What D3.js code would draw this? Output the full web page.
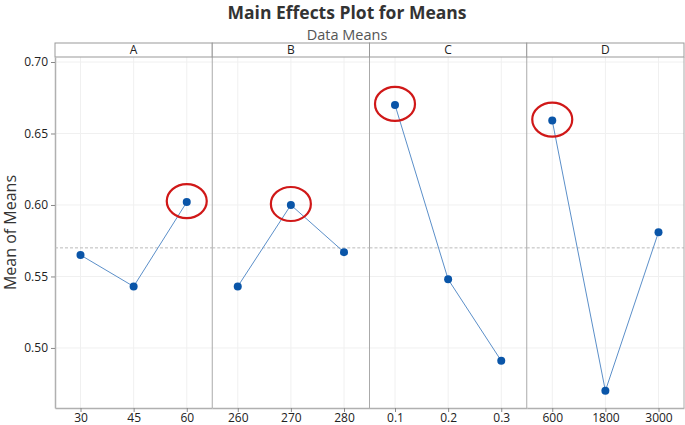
<!DOCTYPE html>
<html>
<head>
<meta charset="utf-8">
<script src="https://cdn.jsdelivr.net/npm/d3@7"></script>
<style>
  body { margin: 0; background: #fff; }
  svg { font-family: "Open Sans", "Noto Sans", sans-serif; }
</style>
</head>
<body>
<svg width="685" height="425"></svg>
<script>
const width = 685, height = 425;

// data
const factors = ["A", "B", "C", "D"];
const levels = [["30", "45", "60"], ["260", "270", "280"], ["0.1", "0.2", "0.3"], ["600", "1800", "3000"]];
const means = [[0.565, 0.543, 0.602], [0.543, 0.600, 0.567], [0.670, 0.548, 0.491], [0.659, 0.470, 0.581]];
const highlighted = ["60", "270", "0.1", "600"]; // circled in red
const overallMean = 0.570;
const yTicks = [0.50, 0.55, 0.60, 0.65, 0.70];

const margin = {left: 55, right: 1, top: 57, bottom: 17};
const stripH = 14;

const svg = d3.select("svg");

const y = d3.scaleLinear()
    .domain([0.458, 0.7035])
    .range([height - margin.bottom, margin.top]);

const panel = d3.scaleBand()
    .domain(factors)
    .range([margin.left, width - margin.right]);

// title
svg.append("text")
    .attr("x", 347).attr("y", 19)
    .attr("text-anchor", "middle")
    .attr("font-size", 17.5).attr("font-weight", "bold").attr("fill", "#333")
    .text("Main Effects Plot for Means");
svg.append("text")
    .attr("x", 347).attr("y", 40)
    .attr("text-anchor", "middle")
    .attr("font-size", 14.5).attr("fill", "#555")
    .text("Data Means");

// y axis label
svg.append("text")
    .attr("transform", `translate(16,${(margin.top + height - margin.bottom) / 2}) rotate(-90)`)
    .attr("text-anchor", "middle")
    .attr("font-size", 16).attr("fill", "#333")
    .text("Mean of Means");

// horizontal grid
svg.append("g").selectAll("line")
    .data(yTicks)
    .enter().append("line")
    .attr("x1", margin.left).attr("x2", width - margin.right)
    .attr("y1", d => y(d)).attr("y2", d => y(d))
    .attr("stroke", "#f0f0f0");

// y axis
const yAxis = svg.append("g")
    .attr("transform", `translate(${margin.left},0)`)
    .call(d3.axisLeft(y).tickValues(yTicks).tickFormat(d3.format(".2f")).tickSize(4).tickSizeOuter(0));
yAxis.select(".domain").attr("stroke", "#b0b0b0").attr("stroke-width", 1.5);
yAxis.selectAll(".tick line").attr("stroke", "#888");
yAxis.selectAll(".tick text").attr("font-size", 12).attr("fill", "#222").attr("font-family", "Open Sans, sans-serif");

factors.forEach((f, i) => {
    const x0 = panel(f), w = panel.bandwidth();
    const x = d3.scalePoint()
        .domain(levels[i])
        .range([x0, x0 + w])
        .padding(0.48);

    const g = svg.append("g");

    // vertical grid
    g.selectAll(".vgrid")
        .data(levels[i])
        .enter().append("line")
        .attr("x1", d => x(d)).attr("x2", d => x(d))
        .attr("y1", margin.top).attr("y2", height - margin.bottom)
        .attr("stroke", "#f0f0f0");

    // reference line at overall mean
    g.append("line")
        .attr("x1", x0).attr("x2", x0 + w)
        .attr("y1", y(overallMean)).attr("y2", y(overallMean))
        .attr("stroke", "#bbb").attr("stroke-dasharray", "3,2");

    // header strip
    g.append("rect")
        .attr("x", x0).attr("y", margin.top - stripH)
        .attr("width", w).attr("height", stripH)
        .attr("fill", "#fff").attr("stroke", "#999");
    g.append("text")
        .attr("x", x0 + w / 2).attr("y", margin.top - 3)
        .attr("text-anchor", "middle")
        .attr("font-size", 12).attr("fill", "#222")
        .text(f);

    // panel separator
    g.append("line")
        .attr("x1", x0 + w).attr("x2", x0 + w)
        .attr("y1", margin.top).attr("y2", height - margin.bottom)
        .attr("stroke", "#aaa");

    // bottom axis
    const xa = g.append("g")
        .attr("transform", `translate(0,${height - margin.bottom})`)
        .call(d3.axisBottom(x).tickSize(4).tickPadding(2).tickSizeOuter(0));
    xa.select(".domain").attr("stroke", "#b0b0b0").attr("stroke-width", 1.5);
    xa.selectAll(".tick line").attr("stroke", "#888");
    xa.selectAll(".tick text").attr("font-size", 12).attr("fill", "#222").attr("dy", "0.68em")
        .attr("font-family", "Open Sans, sans-serif");

    const pts = levels[i].map((l, j) => ({level: l, value: means[i][j]}));

    g.append("path")
        .datum(pts)
        .attr("fill", "none")
        .attr("stroke", "#5b8fc9").attr("stroke-width", 1)
        .attr("d", d3.line().x(d => x(d.level)).y(d => y(d.value)));

    g.selectAll(".pt")
        .data(pts)
        .enter().append("circle")
        .attr("cx", d => x(d.level)).attr("cy", d => y(d.value))
        .attr("r", 4).attr("fill", "#0a55a8");

    g.selectAll(".hl")
        .data(pts.filter(d => d.level === highlighted[i]))
        .enter().append("ellipse")
        .attr("cx", d => x(d.level)).attr("cy", d => y(d.value) - 1)
        .attr("rx", 20).attr("ry", 17)
        .attr("fill", "none").attr("stroke", "#d01818").attr("stroke-width", 2.2);
});
</script>
</body>
</html>
